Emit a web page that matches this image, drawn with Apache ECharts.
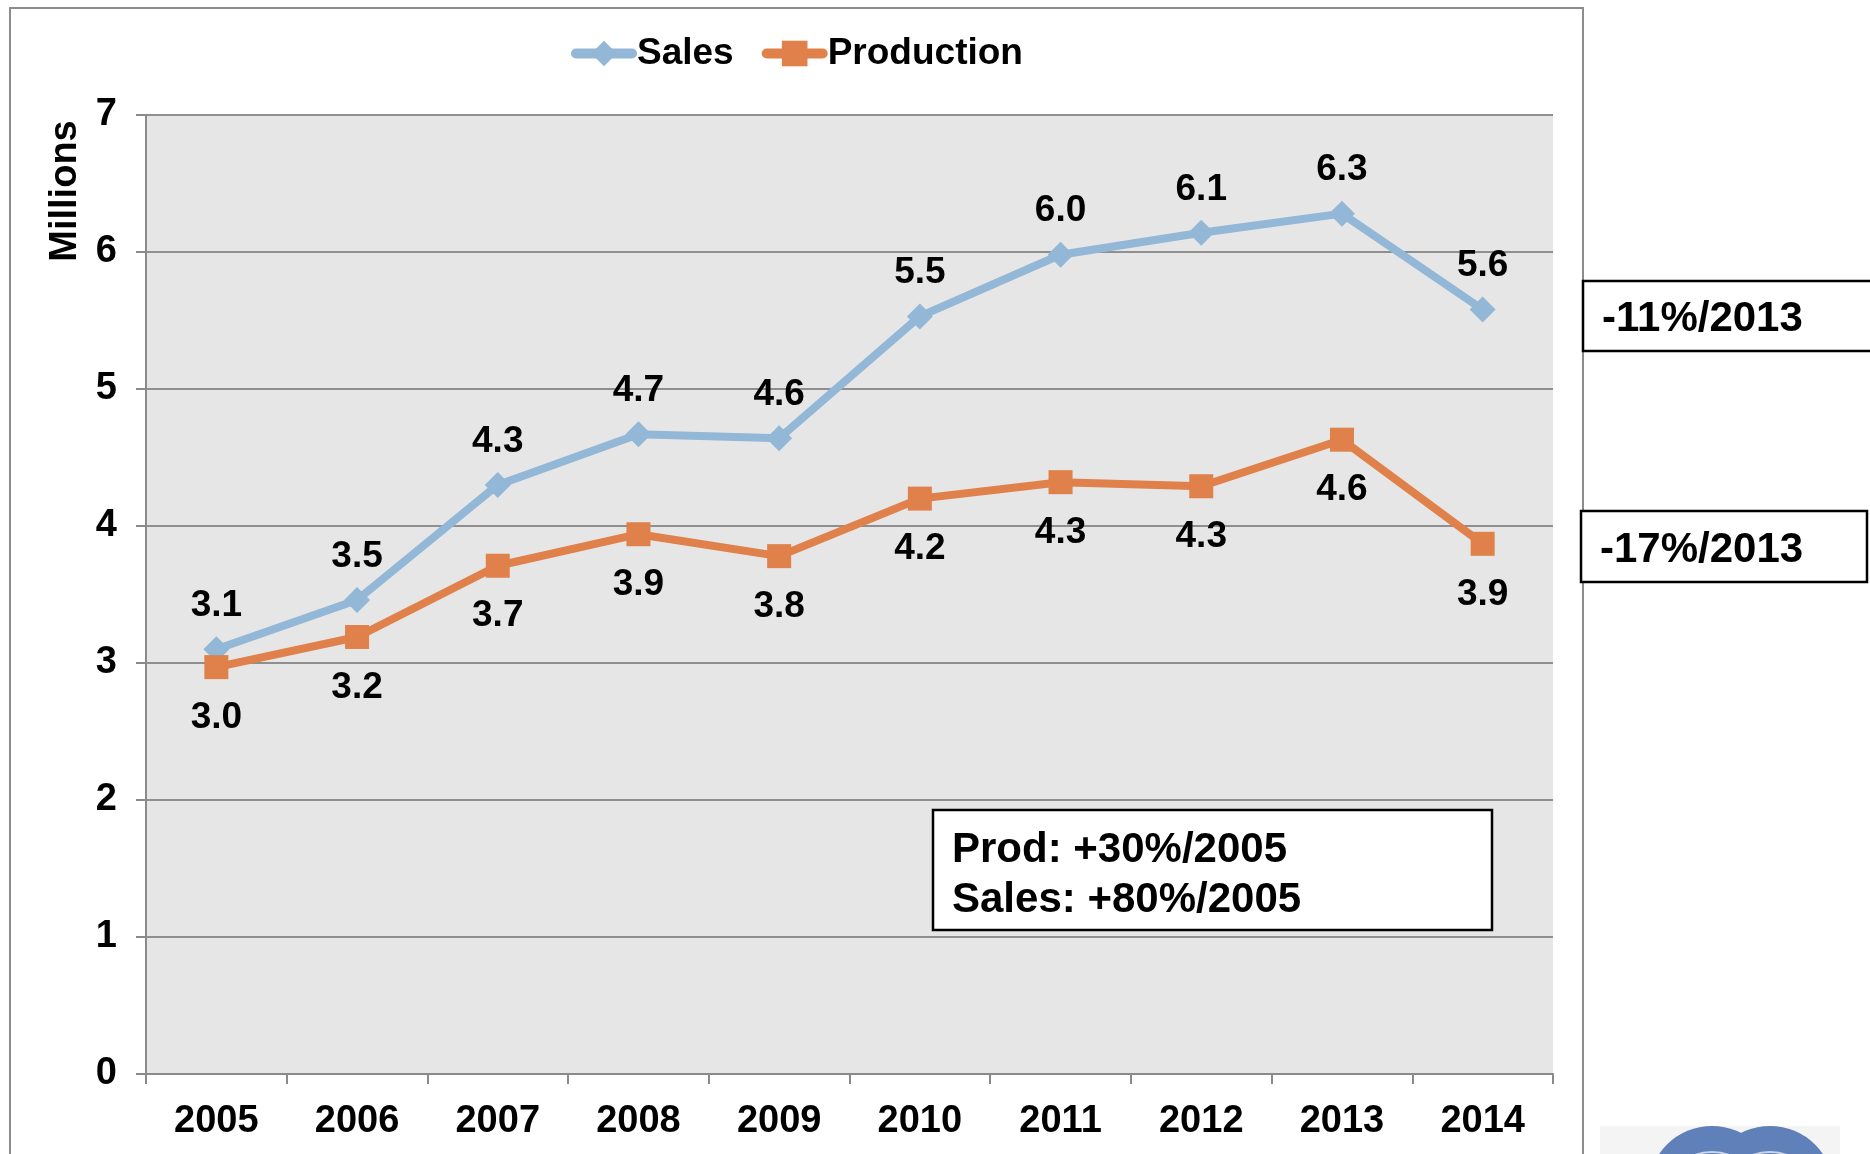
<!DOCTYPE html>
<html>
<head>
<meta charset="utf-8">
<script src="https://cdn.jsdelivr.net/npm/echarts@6/dist/echarts.min.js"></script>
<style>
	html, body {margin: 0;padding: 0;background: #ffffff;}
	#main {width: 1870px;height: 1154px;}
</style>
</head>
<body>
<div id="main"></div>
<script>
	// data (millions of units)
	var years = ['2005', '2006', '2007', '2008', '2009', '2010', '2011', '2012', '2013', '2014'];
	var sales = [3.10, 3.46, 4.30, 4.67, 4.64, 5.53, 5.98, 6.14, 6.28, 5.58];
	var production = [2.97, 3.19, 3.71, 3.94, 3.78, 4.20, 4.32, 4.29, 4.63, 3.87];
	var yTicks = {min: 0, max: 7, interval: 1};
	var unitLabel = 'Millions';
	var notes = ['-11%/2013', '-17%/2013', 'Prod: +30%/2005\nSales: +80%/2005'];

	var font = "'Liberation Sans', Arial, sans-serif";
	var salesColor = '#93B7D6';
	var prodColor = '#E0804A';

	var myChart = echarts.init(document.getElementById('main'));
	var option = {
		animation: false,
		textStyle: {fontFamily: font},
		grid: {left: 146, right: 317, top: 115, bottom: 80, show: true, backgroundColor: '#E6E6E6', borderWidth: 0, outerBoundsMode: 'none'},
		legend: {
			left: 566, top: 30, itemWidth: 56, itemHeight: 32, itemGap: 28,
			lineStyle: {width: 10, cap: 'round'},
			textStyle: {fontFamily: font, fontSize: 37, fontWeight: 'bold', color: '#000'},
			data: ['Sales', 'Production']
		},
		xAxis: {
			type: 'category', data: years, boundaryGap: true,
			axisLine: {lineStyle: {color: '#8A8A8A', width: 2}},
			axisTick: {show: true, length: 10, lineStyle: {color: '#8A8A8A', width: 2}},
			axisLabel: {margin: 29, fontSize: 38, fontWeight: 'bold', color: '#000', fontFamily: font}
		},
		yAxis: {
			type: 'value', min: yTicks.min, max: yTicks.max, interval: yTicks.interval,
			axisLine: {show: true, lineStyle: {color: '#8A8A8A', width: 2}},
			axisTick: {show: true, length: 10, lineStyle: {color: '#8A8A8A', width: 2}},
			axisLabel: {margin: 29, fontSize: 38, fontWeight: 'bold', color: '#000', fontFamily: font},
			splitLine: {lineStyle: {color: '#8F8F8F', width: 2}}
		},
		series: [
			{
				name: 'Sales', type: 'line', data: sales,
				symbol: 'diamond', symbolSize: 26,
				lineStyle: {color: salesColor, width: 8},
				itemStyle: {color: salesColor},
				label: {
					show: true, position: 'top', distance: 12,
					fontSize: 37, fontWeight: 'bold', color: '#000', fontFamily: font,
					formatter: function(p) {return p.value.toFixed(1);}
				},
				z: 3
			},
			{
				name: 'Production', type: 'line', data: production,
				symbol: 'rect', symbolSize: 24,
				lineStyle: {color: prodColor, width: 8},
				itemStyle: {color: prodColor},
				label: {
					show: true, position: 'bottom', distance: 20,
					fontSize: 37, fontWeight: 'bold', color: '#000', fontFamily: font,
					formatter: function(p) {return p.value.toFixed(1);}
				},
				z: 4
			}
		],
		graphic: [
			// outer frame of the slide chart
			{type: 'rect', shape: {x: 10, y: 8, width: 1573, height: 1200}, style: {fill: null, stroke: '#8C8C8C', lineWidth: 2}, silent: true, z: -10},
			// y unit title
			{type: 'text', x: 66, y: 191, rotation: Math.PI / 2,
				style: {text: unitLabel, font: "bold 38px " + font, fill: '#000', align: 'center', verticalAlign: 'middle'}, z: 5},
			// change vs 2013 boxes
			{type: 'rect', shape: {x: 1583, y: 281, width: 290, height: 70}, style: {fill: '#fff', stroke: '#000', lineWidth: 2.5}, z: 10},
			{type: 'text', left: 1602, top: 298, style: {text: notes[0], font: "bold 42px " + font, fill: '#000'}, z: 11},
			{type: 'rect', shape: {x: 1581, y: 511, width: 286, height: 71}, style: {fill: '#fff', stroke: '#000', lineWidth: 2.5}, z: 10},
			{type: 'text', left: 1600, top: 529, style: {text: notes[1], font: "bold 42px " + font, fill: '#000'}, z: 11},
			// growth vs 2005 box
			{type: 'rect', shape: {x: 933, y: 810, width: 559, height: 120}, style: {fill: '#fff', stroke: '#000', lineWidth: 2.5}, z: 10},
			{type: 'text', left: 952, top: 825, style: {text: notes[2], font: "bold 42px " + font, fill: '#000', lineHeight: 50}, z: 11},
			// logo peeking in at the bottom right
			{type: 'rect', shape: {x: 1600, y: 1126, width: 240, height: 30}, style: {fill: '#F4F4F4'}, z: 1},
			{type: 'circle', shape: {cx: 1712, cy: 1190, r: 64}, style: {fill: '#5F80B8'}, z: 2},
			{type: 'circle', shape: {cx: 1770, cy: 1190, r: 64}, style: {fill: '#5F80B8'}, z: 2},
			{type: 'circle', shape: {cx: 1712, cy: 1200, r: 48}, style: {fill: null, stroke: '#C9D6EA', lineWidth: 2}, z: 3},
			{type: 'circle', shape: {cx: 1770, cy: 1200, r: 48}, style: {fill: null, stroke: '#C9D6EA', lineWidth: 2}, z: 3}
		]
	};
	myChart.setOption(option);
</script>
</body>
</html>
